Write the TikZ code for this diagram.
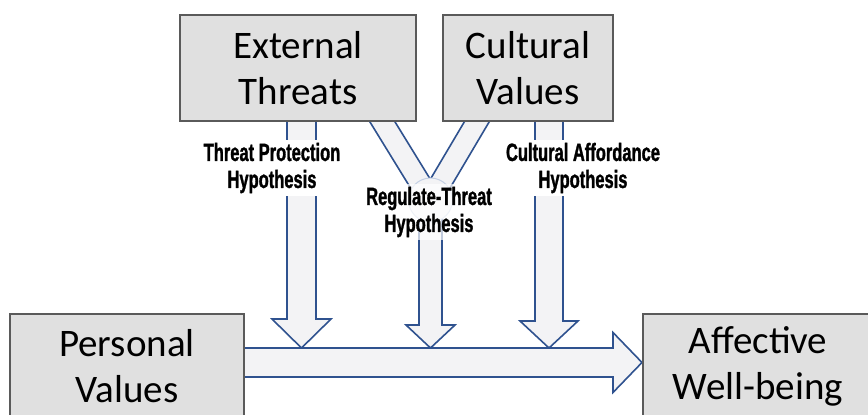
\documentclass[tikz,border=0pt]{standalone}
\usepackage{fontspec}
\setmainfont{Carlito}
\newfontfamily\hypfont[FakeStretch=0.66, FakeBold=1.2]{Liberation Sans}
\usetikzlibrary{calc}
\definecolor{boxgray}{RGB}{224,224,224}
\definecolor{boxline}{RGB}{90,90,90}
\definecolor{arrowblue}{RGB}{47,82,143}
\definecolor{arrowfill}{RGB}{243,243,245}
\definecolor{ringblue}{RGB}{196,208,228}

\tikzset{
  factor/.style={draw=boxline, line width=1.2pt, fill=boxgray, align=center,
    font=\fontsize{39}{46}\selectfont, inner sep=0pt},
  hyp/.style={fill=white, align=center,
    font=\hypfont\bfseries\fontsize{25}{27}\selectfont, inner sep=3pt},
  fat/.style={draw=arrowblue, fill=arrowfill, line width=1.6pt, line join=miter},
}

% block arrow: start, tip, half shaft, half head, head length
\newcommand{\blockarrow}[5]{%
  \coordinate (hb) at ($(#2)!#5!(#1)$);
  \path[fat] ($(#1)!#3!90:(#2)$) -- ($(hb)!#3!-90:(#1)$) -- ($(hb)!#4!-90:(#1)$)
    -- (#2) -- ($(hb)!#4!90:(#1)$) -- ($(hb)!#3!90:(#1)$) -- ($(#1)!#3!-90:(#2)$);
}
% open band (no head): start, end, half width
\newcommand{\fatband}[3]{%
  \fill[arrowfill] ($(#1)!#3!90:(#2)$) -- ($(#2)!#3!-90:(#1)$)
    -- ($(#2)!#3!90:(#1)$) -- ($(#1)!#3!-90:(#2)$) -- cycle;
  \draw[fat, fill=none] ($(#1)!#3!90:(#2)$) -- ($(#2)!#3!-90:(#1)$);
  \draw[fat, fill=none] ($(#1)!#3!-90:(#2)$) -- ($(#2)!#3!90:(#1)$);
}

\begin{document}
\begin{tikzpicture}[x=1pt, y=-1pt]
  \useasboundingbox (0,0) rectangle (868,415);

  % arrow ends
  \coordinate (tpstart) at (301.5,110);
  \coordinate (tptip) at (301.5,348);
  \coordinate (castart) at (549,110);
  \coordinate (catip) at (549,348);
  \coordinate (armleft) at (377.3,113.5);
  \coordinate (armright) at (481.7,113.5);
  \coordinate (hub) at (430.5,200);
  \coordinate (rttip) at (430.5,348);
  \coordinate (pvstart) at (235,362.5);
  \coordinate (pvtip) at (642,362.5);

  % moderating arrows
  \blockarrow{tpstart}{tptip}{14.5pt}{29.5pt}{29pt}
  \blockarrow{castart}{catip}{14pt}{29pt}{27pt}
  \fatband{armleft}{hub}{10.7pt}
  \fatband{armright}{hub}{10.7pt}
  \blockarrow{hub}{rttip}{11.5pt}{24.5pt}{23pt}
  \filldraw[fill=arrowfill, draw=ringblue, line width=1pt] (hub) circle (22);

  % main path
  \blockarrow{pvstart}{pvtip}{14.5pt}{30pt}{29pt}

  % factors
  \node[factor, minimum width=236, minimum height=106] (ext) at (298,68) {External\\Threats};
  \node[factor, minimum width=170, minimum height=106] (cult) at (528,68) {Cultural\\Values};
  \node[factor, minimum width=234, minimum height=104] (pers) at (127,366) {Personal\\Values};
  \node[factor, minimum width=230, minimum height=104] (wb) at (758,366) {Affective\\Well-being};

  % hypotheses
  \node[hyp] (tph) at (272,168) {Threat Protection\\Hypothesis};
  \node[hyp] (cah) at (583,168) {Cultural Affordance\\Hypothesis};
  \node[hyp, fill opacity=0.7, text opacity=1] (rth) at (429,212) {Regulate-Threat\\Hypothesis};
\end{tikzpicture}
\end{document}
